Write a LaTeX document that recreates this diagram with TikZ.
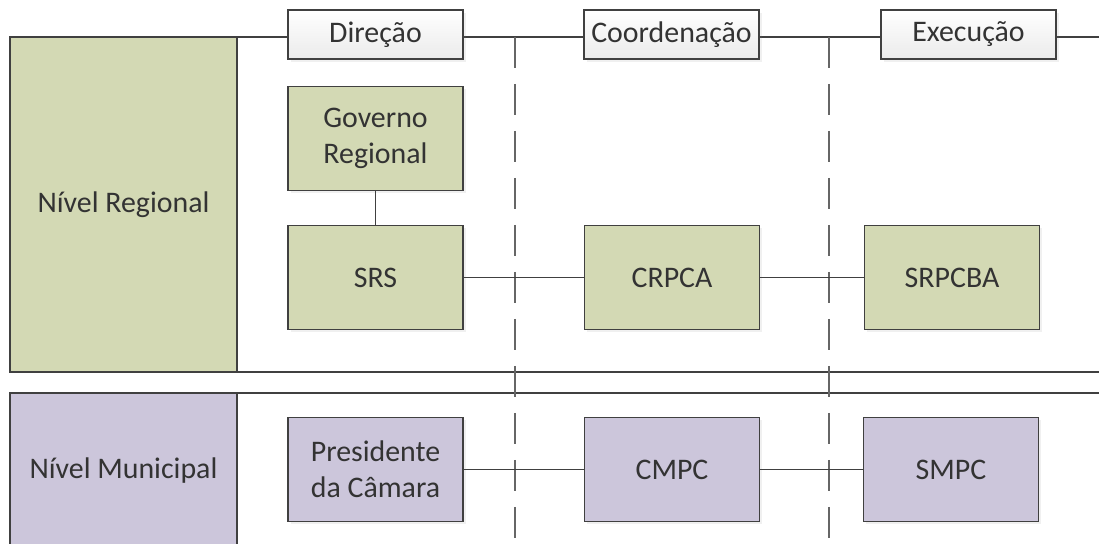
\documentclass[tikz,border=0pt]{standalone}
\usepackage{fontspec}
\setmainfont{Carlito}
\usetikzlibrary{positioning,shadows}
\definecolor{regfill}{RGB}{211,217,180}
\definecolor{munfill}{RGB}{204,198,219}
\definecolor{edge}{RGB}{64,64,64}
\begin{document}
\begin{tikzpicture}[x=0.02cm, y=-0.02cm, line width=0.9pt,
  every node/.style={font=\fontsize{17}{20.5}\selectfont, text=black!80, align=center},
  unit/.style={draw=edge, minimum width=3.5cm, minimum height=2.08cm, inner sep=0pt,
    drop shadow={opacity=0.12, shadow xshift=1.5pt, shadow yshift=-1.5pt}},
  head/.style={draw=edge, minimum width=3.5cm, minimum height=0.98cm, inner sep=0pt,
    top color=white, bottom color=black!8,
    drop shadow={opacity=0.12, shadow xshift=1.5pt, shadow yshift=-1.5pt}},
  panel/.style={draw=edge, minimum width=4.54cm, inner sep=0pt},
  lane/.style={draw=edge!80, dash pattern=on 0.62cm off 0.32cm}]
\useasboundingbox (0,0) rectangle (1099,544);

\node[panel, fill=regfill, minimum height=6.7cm] (reg) at (123.5,204.5) {Nível Regional};
\node[panel, fill=munfill, minimum height=3.1cm] (mun) at (123.5,470.5) {Nível Municipal};
\draw[edge] (10,37) -- (1099,37);
\draw[edge] (10,372) -- (1099,372);
\draw[edge] (10,393) -- (1099,393);
\draw[lane] (515,37) -- (515,546);
\draw[lane] (829,37) -- (829,546);

\node[head] (dir) at (375.5,34.5) {Direção};
\node[head] (coord) at (671.5,34.5) {Coordenação};
\node[head] (exec) at (968.5,34.5) {Execução};

\node[unit, fill=regfill] (gov) at (375.5,138.5) {Governo\\Regional};
\node[unit, fill=regfill] (srs) at (375.5,277.5) {SRS};
\node[unit, fill=regfill] (crpca) at (672,277.5) {CRPCA};
\node[unit, fill=regfill] (srpcba) at (952,277.5) {SRPCBA};
\node[unit, fill=munfill] (pres) at (375.5,469.5) {Presidente\\da Câmara};
\node[unit, fill=munfill] (cmpc) at (672,469.5) {CMPC};
\node[unit, fill=munfill] (smpc) at (951,469.5) {SMPC};

\draw[edge] (gov) -- (srs);
\draw[edge] (srs) -- (crpca) -- (srpcba);
\draw[edge] (pres) -- (cmpc) -- (smpc);
\end{tikzpicture}
\end{document}
